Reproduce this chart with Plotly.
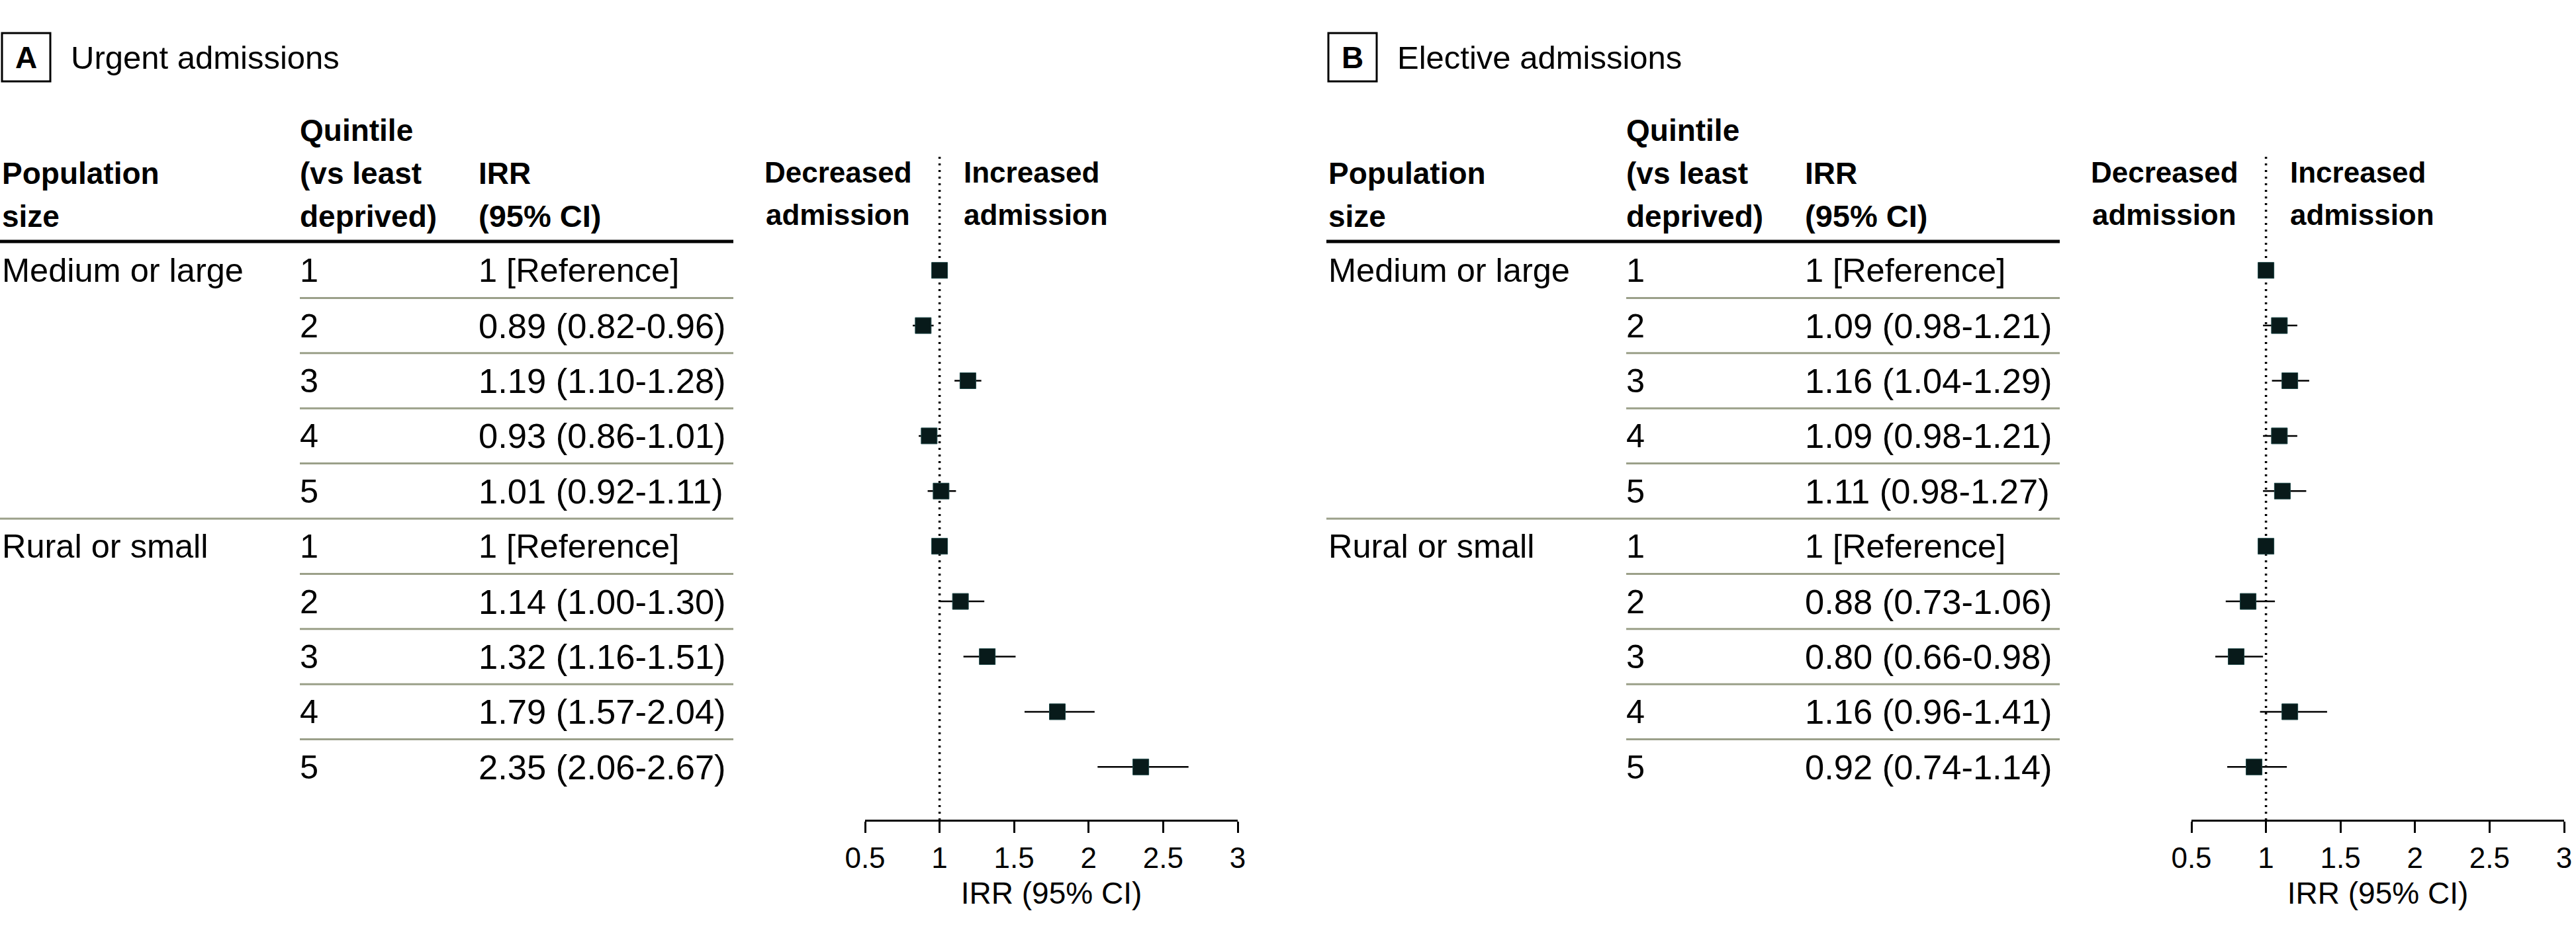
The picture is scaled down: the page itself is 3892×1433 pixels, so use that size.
import plotly.graph_objects as go

# ---------------- data ----------------
populations = ["Medium or large"] * 5 + ["Rural or small"] * 5
quintiles = [1, 2, 3, 4, 5, 1, 2, 3, 4, 5]

urgent_irr = [1.00, 0.89, 1.19, 0.93, 1.01, 1.00, 1.14, 1.32, 1.79, 2.35]
urgent_lo = [1.00, 0.82, 1.10, 0.86, 0.92, 1.00, 1.00, 1.16, 1.57, 2.06]
urgent_hi = [1.00, 0.96, 1.28, 1.01, 1.11, 1.00, 1.30, 1.51, 2.04, 2.67]

elective_irr = [1.00, 1.09, 1.16, 1.09, 1.11, 1.00, 0.88, 0.80, 1.16, 0.92]
elective_lo = [1.00, 0.98, 1.04, 0.98, 0.98, 1.00, 0.73, 0.66, 0.96, 0.74]
elective_hi = [1.00, 1.21, 1.29, 1.21, 1.27, 1.00, 1.06, 0.98, 1.41, 1.14]

x_tick_vals = [0.5, 1, 1.5, 2, 2.5, 3]
x_tick_text = ["0.5", "1", "1.5", "2", "2.5", "3"]

panels = [
    ("A", "Urgent admissions", urgent_irr, urgent_lo, urgent_hi),
    ("B", "Elective admissions", elective_irr, elective_lo, elective_hi),
]

# ---------------- layout geometry (pixels) ----------------
W, H = 3892, 1433
PANEL_OFFSET = 2004
ROW0_PX, ROW_PX = 408.7, 83.4
AXIS_PX = 1239
AX_X0, AX_X1 = 1307, 1870
COL_POP, COL_Q, COL_IRR, TABLE_END = 3, 453, 723, 1108

FONT = "Liberation Sans, Arial, sans-serif"
MARK_COLOR = "#081a1a"
RULE_COLOR = "#9ba089"
ROW_FONT = 50.5
NUM_FONT = 52.5


def pxx(p):
    return p / W


def pxy(p):
    return 1 - p / H


y_top = -ROW0_PX / ROW_PX
y_bottom = (AXIS_PX - ROW0_PX) / ROW_PX

fig = go.Figure()
shapes = []
annotations = []


def ann(text, x, y, size, xanchor="left", yref="paper", bold=False):
    annotations.append(dict(
        text=f"<b>{text}</b>" if bold else text,
        x=pxx(x), xref="paper", y=y if yref == "y" else pxy(y), yref=yref,
        xanchor=xanchor, yanchor="middle", showarrow=False,
        borderpad=0, borderwidth=0,
        font=dict(size=size, family=FONT, color="black"),
    ))


rows = list(range(len(quintiles)))

for p_idx, (letter, title, irr, lo, hi) in enumerate(panels):
    off = p_idx * PANEL_OFFSET
    xname = "x" if p_idx == 0 else "x2"

    # forest plot trace
    fig.add_trace(go.Scatter(
        x=irr, y=rows, mode="markers", xaxis=xname, yaxis="y",
        marker=dict(symbol="square", size=24, color=MARK_COLOR,
                    line=dict(width=1, color="#1d4646")),
        error_x=dict(type="data", symmetric=False,
                     array=[h - v for h, v in zip(hi, irr)],
                     arrayminus=[v - l for v, l in zip(irr, lo)],
                     thickness=2.5, width=0, color="black"),
        cliponaxis=False, hoverinfo="skip", showlegend=False,
    ))

    # dotted reference line at IRR = 1
    shapes.append(dict(type="line", xref=xname, x0=1, x1=1,
                       yref="paper", y0=pxy(237), y1=pxy(AXIS_PX),
                       line=dict(color="black", width=3.5, dash="3px,7px"),
                       layer="below"))

    # panel label box and title
    shapes.append(dict(type="rect", xref="paper", yref="paper",
                       x0=pxx(3 + off), x1=pxx(76 + off), y0=pxy(123), y1=pxy(50),
                       line=dict(color="black", width=3), fillcolor="rgba(0,0,0,0)"))
    ann(letter, 39.5 + off, 87, 46, xanchor="center", bold=True)
    ann(title, 107 + off, 87, 49)

    # table headers
    ann("Population", COL_POP + off, 262, 46, bold=True)
    ann("size", COL_POP + off, 327, 46, bold=True)
    ann("Quintile", COL_Q + off, 197, 46, bold=True)
    ann("(vs least", COL_Q + off, 262, 46, bold=True)
    ann("deprived)", COL_Q + off, 327, 46, bold=True)
    ann("IRR", COL_IRR + off, 262, 46, bold=True)
    ann("(95% CI)", COL_IRR + off, 327, 47, bold=True)
    ann("Decreased", 1266 + off, 260, 44, xanchor="center", bold=True)
    ann("admission", 1266 + off, 324, 44, xanchor="center", bold=True)
    ann("Increased", 1456 + off, 260, 44, bold=True)
    ann("admission", 1456 + off, 324, 44, bold=True)

    # header rule
    shapes.append(dict(type="line", xref="paper", yref="paper",
                       x0=pxx(0 + off), x1=pxx(TABLE_END + off), y0=pxy(365), y1=pxy(365),
                       line=dict(color="black", width=5)))

    # table rows
    for i in rows:
        if i == 0 or populations[i] != populations[i - 1]:
            ann(populations[i], COL_POP + off, i, ROW_FONT, yref="y")
        ann(str(quintiles[i]), COL_Q + off, i, ROW_FONT, yref="y")
        if quintiles[i] == 1:
            ann("1 [Reference]", COL_IRR + off, i, ROW_FONT, yref="y")
        else:
            txt = f"{irr[i]:.2f} ({lo[i]:.2f}-{hi[i]:.2f})"
            ann(txt, COL_IRR + off, i, NUM_FONT, yref="y")

        if i < len(rows) - 1:
            ymid = ROW0_PX + ROW_PX * (i + 0.5)
            new_group = populations[i + 1] != populations[i]
            x0 = (0 if new_group else COL_Q) + off
            shapes.append(dict(type="line", xref="paper", yref="paper",
                               x0=pxx(x0), x1=pxx(TABLE_END + off),
                               y0=pxy(ymid), y1=pxy(ymid),
                               line=dict(color=RULE_COLOR, width=3)))

axis_style = dict(
    range=[0.5, 3], anchor="y", showline=True, linecolor="black", linewidth=2.5,
    ticks="outside", ticklen=17, tickwidth=2.5, tickcolor="black",
    tickvals=x_tick_vals, ticktext=x_tick_text,
    tickfont=dict(size=44, family=FONT, color="black"),
    showgrid=False, zeroline=False, fixedrange=True, automargin=False,
    title=dict(text="IRR (95% CI)", font=dict(size=46, family=FONT, color="black"), standoff=15),
)

fig.update_layout(
    width=W, height=H,
    margin=dict(l=0, r=0, t=0, b=0, pad=0, autoexpand=False),
    paper_bgcolor="white", plot_bgcolor="white",
    showlegend=False,
    font=dict(family=FONT, color="black"),
    xaxis=dict(domain=[pxx(AX_X0), pxx(AX_X1)], **axis_style),
    xaxis2=dict(domain=[pxx(AX_X0 + PANEL_OFFSET), pxx(AX_X1 + PANEL_OFFSET)], **axis_style),
    yaxis=dict(domain=[pxy(AXIS_PX), 1], range=[y_bottom, y_top], visible=False,
               fixedrange=True, automargin=False),
    shapes=shapes,
    annotations=annotations,
)

fig.write_html("out.html")
